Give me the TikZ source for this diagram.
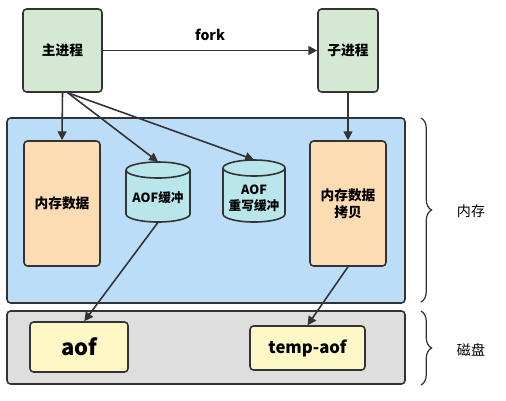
\documentclass[tikz,border=0pt]{standalone}
\usepackage{fontspec}
\setmainfont{Noto Sans CJK SC}
\usetikzlibrary{arrows.meta,decorations.pathreplacing}
\definecolor{gfill}{HTML}{D5E8D4}
\definecolor{bfill}{HTML}{BBDDF7}
\definecolor{ofill}{HTML}{FCDDB3}
\definecolor{cfill}{HTML}{B8E6EA}
\definecolor{grfill}{HTML}{DEDEDE}
\definecolor{yfill}{HTML}{FDF8C6}
\definecolor{edge}{HTML}{333333}
\begin{document}
\begin{tikzpicture}[x=0.02cm,y=-0.02cm,
  boxbase/.style={draw=edge,line width=0.9pt,rounded corners=2pt,inner sep=1pt,align=center,font=\bfseries\fontsize{7.8}{9.5}\selectfont},
  proc/.style={boxbase,fill=gfill},
  mem/.style={boxbase,fill=ofill},
  file/.style={boxbase,fill=yfill},
  area/.style={draw=edge,line width=0.9pt,rounded corners=2pt},
  arr/.style={draw=edge,line width=0.9pt,-{Triangle[length=5pt,width=5pt]}},
  brc/.style={draw=edge,line width=0.7pt,decorate,decoration={brace,amplitude=6pt}},
  cyl/.style={draw=edge,line width=0.9pt,fill=cfill},
  cyltext/.style={font=\bfseries\fontsize{7.2}{9}\selectfont,align=center,inner sep=0pt},
  side/.style={font=\fontsize{8}{10}\selectfont}]
\useasboundingbox (0,0) rectangle (506,400);
% areas
\node[area,fill=bfill,minimum width=7.96cm,minimum height=3.70cm] (memarea) at (206,210.5) {};
\node[area,fill=grfill,minimum width=7.96cm,minimum height=1.46cm] (diskarea) at (206,347.5) {};
% processes
\node[proc,minimum width=1.58cm,minimum height=1.66cm] (main) at (62.5,50.5) {主进程};
\node[proc,minimum width=1.20cm,minimum height=1.66cm] (child) at (348,50.5) {子进程};
% memory data
\node[mem,minimum width=1.52cm,minimum height=2.50cm] (data) at (62,203.5) {内存数据};
\node[mem,minimum width=1.52cm,minimum height=2.50cm] (copy) at (348,203.5) {内存数据\\拷贝};
% cylinders
\draw[cyl] (126,170) -- (126,214) arc[start angle=180,end angle=0,x radius=32,y radius=8] -- (190,170);
\draw[cyl] (158,170) ellipse[x radius=32,y radius=8];
\draw[cyl] (223,168) -- (223,214) arc[start angle=180,end angle=0,x radius=31,y radius=8] -- (285,168);
\draw[cyl] (254,168) ellipse[x radius=31,y radius=8];
\node[minimum width=1.28cm,minimum height=1.2cm,inner sep=0pt] (buf) at (158,192) {};
\node[minimum width=1.24cm,minimum height=1.24cm,inner sep=0pt] (rbuf) at (254,191) {};
\node[cyltext] (buftxt) at (158,198) {AOF缓冲};
\node[cyltext] (rbuftxt) at (254,198) {AOF\\重写缓冲};
% files
\node[file,minimum width=1.96cm,minimum height=1.00cm,font=\bfseries\fontsize{12.5}{14}\selectfont] (aof) at (79,347) {aof};
\node[file,minimum width=2.30cm,minimum height=0.88cm,font=\bfseries\fontsize{9.5}{11}\selectfont] (taof) at (307.5,348) {temp-aof};
% arrows
\draw[arr] (main) -- node[above=2pt,font=\bfseries\fontsize{8}{10}\selectfont] (forklbl) {fork} (child);
\draw[arr] (main.south) -- (data.north);
\draw[arr] ([xshift=3]main.south) -- (buf.north);
\draw[arr] ([xshift=3]main.south) -- (rbuf.north);
\draw[arr] (child.south) -- (copy.north);
\draw[arr] (buf.south) -- ([xshift=3]aof.north);
\draw[arr] (copy.south) -- (taof.north);
% braces
\coordinate (m1) at (421,118);
\coordinate (m2) at (421,302);
\coordinate (d1) at (421,311);
\coordinate (d2) at (421,385);
\draw[brc] (m1) -- (m2);
\draw[brc] (d1) -- (d2);
\node[side] (memlbl) at (471,211) {内存};
\node[side] (disklbl) at (471,350) {磁盘};
\end{tikzpicture}
\end{document}
